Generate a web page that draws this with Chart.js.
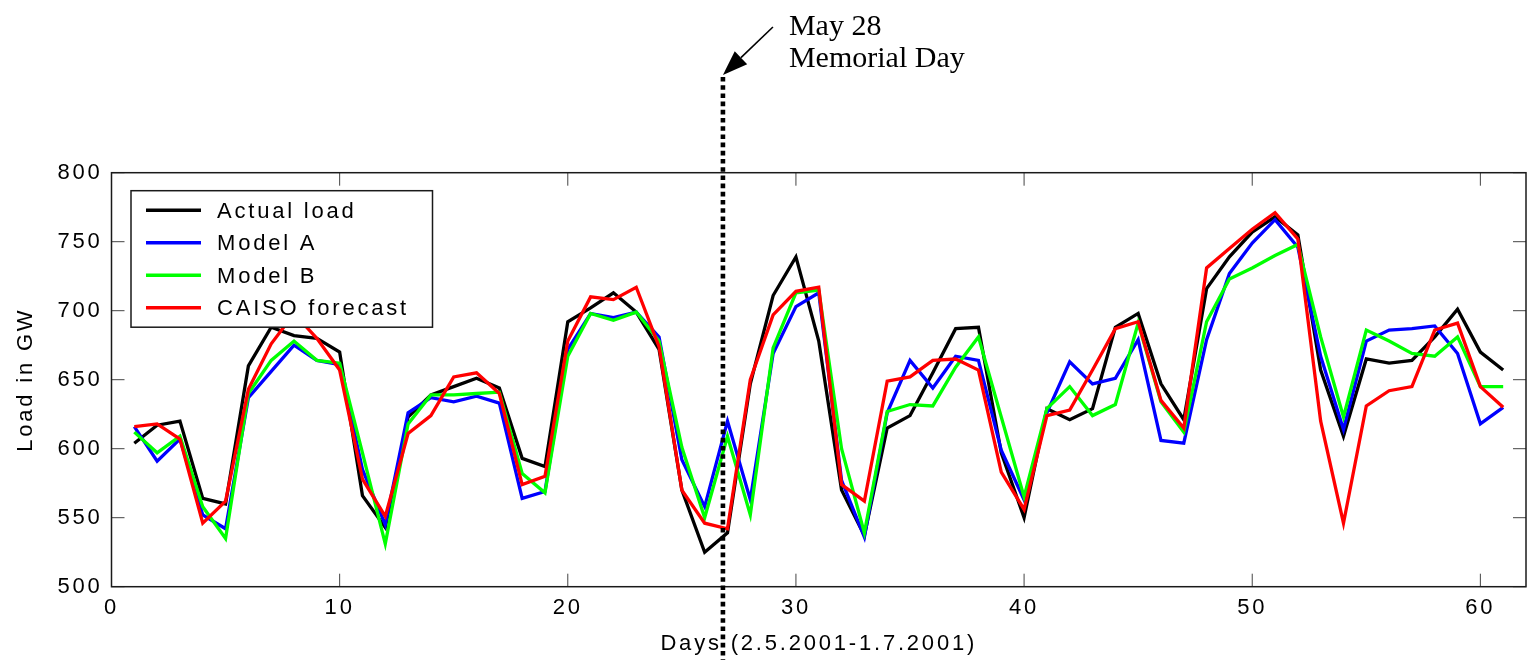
<!DOCTYPE html>
<html>
<head>
<meta charset="utf-8">
<title>Daily load vs forecasts, May–June 2001</title>
<script src="https://cdn.jsdelivr.net/npm/chart.js@4/dist/chart.umd.min.js"></script>
<style>
  html, body { margin: 0; padding: 0; background: #fff; }
  canvas { display: block; }
</style>
</head>
<body>
<canvas id="loadChart" width="1528" height="660"></canvas>
<script>
// Day index within the period 2.5.2001 - 1.7.2001
const days = [1, 2, 3, 4, 5, 6, 7, 8, 9, 10, 11, 12, 13, 14, 15, 16, 17, 18, 19, 20,
  21, 22, 23, 24, 25, 26, 27, 28, 29, 30, 31, 32, 33, 34, 35, 36, 37, 38, 39, 40,
  41, 42, 43, 44, 45, 46, 47, 48, 49, 50, 51, 52, 53, 54, 55, 56, 57, 58, 59, 60, 61];

// Daily load in GW
const actualLoad = [604, 617, 620, 564, 560, 660, 688, 682, 680, 670, 566, 543, 623, 639, 645,
  651, 644, 593, 587, 692, 702, 713, 699, 672, 570, 525, 539, 647, 711, 739, 678, 570, 537,
  615, 624, 655, 687, 688, 597, 550, 629, 621, 629, 688, 698, 647, 621, 716, 739, 757, 768,
  755, 657, 609, 665, 662, 664, 681, 701, 670, 657];

const modelA = [616, 591, 607, 552, 542, 637, 656, 675, 664, 661, 585, 545, 626, 637, 634,
  638, 633, 564, 569, 672, 698, 695, 699, 681, 592, 558, 620, 563, 669, 703, 713, 577, 536,
  626, 664, 644, 667, 664, 599, 563, 626, 663, 647, 651, 679, 606, 604, 679, 727, 749, 766,
  746, 667, 614, 678, 686, 687, 689, 669, 618, 630];

const modelB = [612, 597, 609, 558, 535, 640, 664, 678, 664, 662, 597, 531, 618, 639, 639,
  640, 641, 582, 568, 667, 698, 693, 699, 678, 601, 550, 609, 552, 673, 713, 715, 600, 539,
  627, 632, 631, 659, 681, 623, 565, 629, 645, 624, 632, 691, 634, 612, 692, 723, 731, 740,
  748, 681, 623, 686, 678, 669, 667, 681, 645, 645];

const caisoForecast = [616, 618, 607, 546, 562, 643, 676, 698, 680, 657, 578, 551, 611, 624, 652,
  655, 640, 574, 580, 678, 710, 708, 717, 674, 570, 546, 542, 650, 697, 714, 717, 574, 562,
  649, 652, 664, 665, 657, 583, 556, 624, 628, 657, 687, 692, 635, 615, 731, 745, 759, 771,
  752, 620, 546, 631, 642, 645, 686, 691, 645, 630];

// Axis tick values
const xTickValues = [0, 10, 20, 30, 40, 50, 60];
const yTickValues = [500, 550, 600, 650, 700, 750, 800];

// Holiday marker
const memorialDay = 26.8;
const memorialDayNote = ['May 28', 'Memorial Day'];

const SANS = '"Liberation Sans", Arial, Helvetica, sans-serif';
const SERIF = '"Liberation Serif", "Times New Roman", Times, serif';
const LETTER_SPACING = '2.8px';
const FONT_SIZE = 22;

const toPoints = vals => vals.map((v, i) => ({ x: days[i], y: v }));

// Box frame, inward ticks, legend and holiday annotation
const axesDecor = {
  id: 'axesDecor',
  beforeUpdate(chart) { chart.ctx.letterSpacing = LETTER_SPACING; },
  beforeDraw(chart) { chart.ctx.letterSpacing = LETTER_SPACING; },
  afterDatasetsDraw(chart) {
    const { ctx, chartArea: a, scales: { x, y } } = chart;
    ctx.save();

    // inward tick marks on all four sides
    const len = 13;
    ctx.strokeStyle = '#444';
    ctx.lineWidth = 1;
    ctx.beginPath();
    x.ticks.forEach(t => {
      const p = x.getPixelForValue(t.value);
      ctx.moveTo(p, a.bottom); ctx.lineTo(p, a.bottom - len);
      ctx.moveTo(p, a.top); ctx.lineTo(p, a.top + len);
    });
    y.ticks.forEach(t => {
      const p = y.getPixelForValue(t.value);
      ctx.moveTo(a.left, p); ctx.lineTo(a.left + len, p);
      ctx.moveTo(a.right, p); ctx.lineTo(a.right - len, p);
    });
    ctx.stroke();

    // frame
    ctx.strokeStyle = '#1a1a1a';
    ctx.lineWidth = 1.5;
    ctx.strokeRect(a.left, a.top, a.right - a.left, a.bottom - a.top);

    // legend
    const bx = a.left + 19.5, by = a.top + 18, bw = 301.5, bh = 136.5;
    ctx.fillStyle = '#fff';
    ctx.fillRect(bx, by, bw, bh);
    ctx.strokeStyle = '#1a1a1a';
    ctx.lineWidth = 1.5;
    ctx.strokeRect(bx, by, bw, bh);
    ctx.font = `${FONT_SIZE}px ${SANS}`;
    ctx.textAlign = 'left';
    ctx.textBaseline = 'alphabetic';
    ctx.letterSpacing = LETTER_SPACING;
    chart.data.datasets.forEach((ds, i) => {
      const ry = by + 19.5 + i * 32.5;
      ctx.strokeStyle = ds.borderColor;
      ctx.lineWidth = 3.4;
      ctx.beginPath();
      ctx.moveTo(bx + 15, ry);
      ctx.lineTo(bx + 70, ry);
      ctx.stroke();
      ctx.fillStyle = '#000';
      ctx.fillText(ds.label, bx + 86, ry + 7.5);
    });
    ctx.restore();
  },
  afterDraw(chart) {
    const { ctx, scales: { x } } = chart;
    const mx = x.getPixelForValue(memorialDay);
    const topY = 75;
    ctx.save();

    // dotted holiday line
    ctx.strokeStyle = '#000';
    ctx.lineWidth = 4.6;
    ctx.setLineDash([4.6, 3.6]);
    ctx.beginPath();
    ctx.moveTo(mx, topY + 2);
    ctx.lineTo(mx, chart.height);
    ctx.stroke();
    ctx.setLineDash([]);

    // arrow pointing at the top of the line
    const sx = mx + 50, sy = topY - 48;
    const ang = Math.atan2(topY - sy, mx - sx);
    const headLen = 25, headHalf = 9;
    const bxp = mx - headLen * Math.cos(ang), byp = topY - headLen * Math.sin(ang);
    ctx.lineWidth = 1.6;
    ctx.beginPath();
    ctx.moveTo(sx, sy);
    ctx.lineTo(bxp, byp);
    ctx.stroke();
    ctx.fillStyle = '#000';
    ctx.beginPath();
    ctx.moveTo(mx, topY);
    ctx.lineTo(bxp + headHalf * Math.sin(ang), byp - headHalf * Math.cos(ang));
    ctx.lineTo(bxp - headHalf * Math.sin(ang), byp + headHalf * Math.cos(ang));
    ctx.closePath();
    ctx.fill();

    // note text
    ctx.letterSpacing = '0px';
    ctx.font = `30px ${SERIF}`;
    ctx.textAlign = 'left';
    ctx.textBaseline = 'alphabetic';
    ctx.fillText(memorialDayNote[0], mx + 66, 35);
    ctx.fillText(memorialDayNote[1], mx + 66, 67);
    ctx.restore();
  }
};

const tickFont = { family: SANS, size: FONT_SIZE };

new Chart(document.getElementById('loadChart'), {
  type: 'line',
  data: {
    datasets: [
      { label: 'Actual load', data: toPoints(actualLoad), borderColor: '#000000', order: 4 },
      { label: 'Model A', data: toPoints(modelA), borderColor: '#0000ff', order: 3 },
      { label: 'Model B', data: toPoints(modelB), borderColor: '#00ff00', order: 2 },
      { label: 'CAISO forecast', data: toPoints(caisoForecast), borderColor: '#ff0000', order: 1 }
    ]
  },
  options: {
    responsive: false,
    devicePixelRatio: 1,
    animation: false,
    layout: { padding: { top: 172.7, right: 2, left: 0, bottom: 0 } },
    elements: {
      line: { borderWidth: 3.3, tension: 0, fill: false, borderJoinStyle: 'miter' },
      point: { radius: 0, hoverRadius: 0 }
    },
    plugins: {
      legend: { display: false },
      tooltip: { enabled: false }
    },
    events: [],
    scales: {
      x: {
        type: 'linear',
        min: 0,
        max: 62,
        afterBuildTicks: s => { s.ticks = xTickValues.map(v => ({ value: v })); },
        afterFit: s => { s.height = 73.3; },
        grid: { display: false, drawTicks: false },
        border: { display: false },
        ticks: { color: '#000', font: tickFont, padding: 8, maxRotation: 0, autoSkip: false },
        title: {
          display: true,
          text: 'Days (2.5.2001-1.7.2001)',
          color: '#000',
          font: tickFont,
          padding: { top: 0, bottom: 3 }
        }
      },
      y: {
        min: 500,
        max: 800,
        afterBuildTicks: s => { s.ticks = yTickValues.map(v => ({ value: v })); },
        afterFit: s => { s.width = 111.5; },
        grid: { display: false, drawTicks: false },
        border: { display: false },
        ticks: { color: '#000', font: tickFont, padding: 9 },
        title: {
          display: true,
          text: 'Load in GW',
          color: '#000',
          font: tickFont,
          padding: { top: 13, bottom: 0 }
        }
      }
    }
  },
  plugins: [axesDecor]
});
</script>
</body>
</html>
